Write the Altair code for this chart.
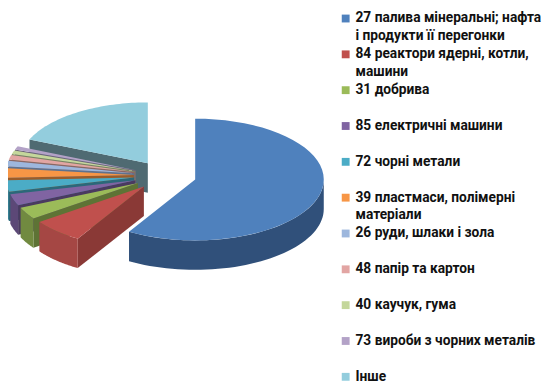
import altair as alt
import pandas as pd

# ---- data ----
names = ["27", "84", "31", "85", "72", "39", "26", "48", "40", "73", "Інше"]
legend_line1 = [
    "27 палива мінеральні; нафта",
    "84 реактори ядерні, котли,",
    "31 добрива",
    "85 електричні машини",
    "72 чорні метали",
    "39 пластмаси, полімерні",
    "26 руди, шлаки і зола",
    "48 папір та картон",
    "40 каучук, гума",
    "73 вироби з чорних металів",
    "Інше",
]
legend_line2 = ["і продукти її перегонки", "машини", "", "", "", "матеріали", "", "", "", "", ""]
shares = [58.6, 6.5, 3.2, 3.0, 3.0, 2.5, 1.5, 1.2, 1.0, 0.9, 18.6]

top_colors = ["#4F81BD", "#C0504D", "#9BBB59", "#8064A2", "#4BACC6", "#F79646",
              "#9DB7DD", "#E2A5A3", "#C4D79B", "#B3A2C7", "#93CDDD"]
outer_colors = ["#30507A", "#A54744", "#718A40", "#5C4877", "#357E92", "#B86E33",
                "#7189AB", "#A87A79", "#909F72", "#837794", "#6B97A3"]
side_colors = ["#2B4669", "#8A3936", "#5E7335", "#4A3A60", "#2C6879", "#9A5C2A",
               "#5E728F", "#8C6665", "#788561", "#6D637B", "#4F6A72"]

# rows reversed so that slices further back are painted first
df = pd.DataFrame({"name": names, "value": shares, "order": list(range(len(names)))}).iloc[::-1]
leg = pd.DataFrame({"name": names, "l1": legend_line1, "l2": legend_line2})

# ---- pie geometry (layout parameters) ----
W_P, H_P = 340, 375
CX, CY = 163, 173      # centre of the ellipse
SX, SY = 131, 62       # horizontal / vertical radius of the tilted disc
D = 30                 # thickness
E = 0.243              # explosion (fraction of radius)
K = 48                 # points per arc

xenc = alt.X("px:Q", scale=alt.Scale(domain=[0, W_P], nice=False, zero=False), axis=None)
yenc = alt.Y("py:Q", scale=alt.Scale(domain=[0, H_P], nice=False, zero=False, reverse=True), axis=None)

base = (
    alt.Chart(df)
    .transform_joinaggregate(total="sum(value)")
    .transform_window(cum="sum(value)", sort=[alt.SortField("order")], frame=[None, 0])
    .transform_calculate(
        a1="2*PI*datum.cum/datum.total",
        a0="2*PI*(datum.cum-datum.value)/datum.total",
    )
    .transform_calculate(m="(datum.a0+datum.a1)/2")
    .transform_calculate(
        ox=f"{SX}*{E}*sin(datum.m)",
        oy=f"-{SY}*{E}*cos(datum.m)",
    )
)

# top faces
tops = (
    base.transform_calculate(pts=f"sequence(0, {K + 1})")
    .transform_flatten(["pts"])
    .transform_calculate(
        ang=f"datum.pts == 0 ? datum.m : datum.a0 + (datum.a1-datum.a0)*(datum.pts-1)/({K}-1)",
        r="datum.pts == 0 ? 0 : 1",
    )
    .transform_calculate(
        px=f"{CX} + datum.ox + {SX}*datum.r*sin(datum.ang)",
        py=f"{CY} + datum.oy - {SY}*datum.r*cos(datum.ang)",
    )
    .mark_line(filled=True, interpolate="linear-closed")
    .encode(
        x=xenc, y=yenc,
        detail="name:N",
        order=alt.Order("pts:Q"),
        color=alt.Color("name:N", scale=alt.Scale(domain=names, range=top_colors), legend=None),
    )
)

# outer (curved) walls, only the front half
outer = (
    base.transform_calculate(
        b0="max(datum.a0, PI/2)",
        b1="min(datum.a1, 3*PI/2)",
    )
    .transform_filter("datum.b1 > datum.b0")
    .transform_calculate(pts=f"sequence(0, {2 * K})")
    .transform_flatten(["pts"])
    .transform_calculate(
        t=f"datum.pts < {K} ? datum.pts/({K}-1) : ({2 * K - 1}-datum.pts)/({K}-1)",
        dz=f"datum.pts < {K} ? 0 : {D}",
    )
    .transform_calculate(ang="datum.b0 + (datum.b1-datum.b0)*datum.t")
    .transform_calculate(
        px=f"{CX} + datum.ox + {SX}*sin(datum.ang)",
        py=f"{CY} + datum.oy - {SY}*cos(datum.ang) + datum.dz",
    )
    .mark_line(filled=True, interpolate="linear-closed")
    .encode(
        x=xenc, y=yenc,
        detail="name:N",
        order=alt.Order("pts:Q"),
        color=alt.Color("name:N", scale=alt.Scale(domain=names, range=outer_colors), legend=None),
    )
)

# radial (cut) walls facing the viewer
radial = (
    base.transform_calculate(side="[0, 1]")
    .transform_flatten(["side"])
    .transform_calculate(edge="datum.side == 0 ? datum.a0 : datum.a1")
    .transform_filter(
        "(datum.side == 0 && sin(datum.a0) < -0.000001) || (datum.side == 1 && sin(datum.a1) > 0.000001)"
    )
    .transform_calculate(key="datum.name + '_' + datum.side", pts="sequence(0, 4)")
    .transform_flatten(["pts"])
    .transform_calculate(
        r="(datum.pts == 1 || datum.pts == 2) ? 1 : 0",
        dz=f"datum.pts >= 2 ? {D} : 0",
    )
    .transform_calculate(
        px=f"{CX} + datum.ox + {SX}*datum.r*sin(datum.edge)",
        py=f"{CY} + datum.oy - {SY}*datum.r*cos(datum.edge) + datum.dz",
    )
    .mark_line(filled=True, interpolate="linear-closed")
    .encode(
        x=xenc, y=yenc,
        detail="key:N",
        order=alt.Order("pts:Q"),
        color=alt.Color("name:N", scale=alt.Scale(domain=names, range=side_colors), legend=None),
    )
)

pie = (
    alt.layer(radial, outer, tops)
    .resolve_scale(color="independent")
    .properties(width=W_P, height=H_P)
)

# ---- legend ----
lyenc = alt.Y("name:N", sort=names, scale=alt.Scale(type="point", padding=0, range=[13, 378]), axis=None)
swatch = alt.Chart(leg).mark_square(size=64, opacity=1).encode(
    x=alt.value(7),
    y=lyenc,
    color=alt.Color("name:N", scale=alt.Scale(domain=names, range=top_colors), legend=None),
)
txt_style = dict(align="left", baseline="middle", font="Roboto", fontWeight="bold",
                 fontSize=14, color="#111111")
text1 = alt.Chart(leg).mark_text(**txt_style).encode(x=alt.value(17), y=lyenc, text="l1:N")
text2 = alt.Chart(leg).mark_text(dy=18, **txt_style).encode(x=alt.value(17), y=lyenc, text="l2:N")
legend = alt.layer(swatch, text1, text2).properties(width=190, height=H_P)

chart = (
    alt.hconcat(pie, legend, spacing=0)
    .properties(padding={"left": -3, "top": -6, "right": 0, "bottom": 0})
    .configure_view(stroke=None)
)

chart.save("out.html", embed_options={"renderer": "svg", "actions": False})
